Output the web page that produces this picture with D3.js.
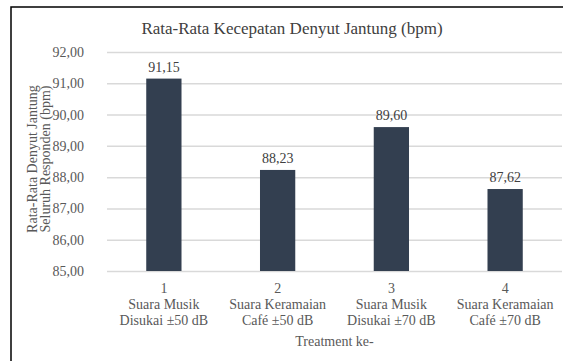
<!DOCTYPE html>
<html><head><meta charset="utf-8">
<script src="https://cdn.jsdelivr.net/npm/d3@7"></script>
<style>body{margin:0;background:#fff}svg{display:block}</style>
</head><body><svg id="c" width="563" height="361"></svg>
<script>
const categories = ["1", "2", "3", "4"];
const labelLine1 = ["Suara Musik", "Suara Keramaian", "Suara Musik", "Suara Keramaian"];
const labelLine2 = ["Disukai ±50 dB", "Café ±50 dB", "Disukai ±70 dB", "Café ±70 dB"];
const values = [91.15, 88.23, 89.60, 87.62];
const yTicks = [85, 86, 87, 88, 89, 90, 91, 92];
const title = "Rata-Rata Kecepatan Denyut Jantung (bpm)";
const yTitle = ["Rata-Rata Denyut Jantung", "Seluruh Responden (bpm)"];
const xTitle = "Treatment ke-";

const FF = "'Liberation Serif'";
const FS = "14px";
const svg = d3.select("#c");
const fmt = v => v.toFixed(2).replace(".", ",");
const x = d3.scaleBand().domain(categories).range([107, 562]).paddingInner(0.69).paddingOuter(0.345);
const y = d3.scaleLinear().domain([85, 92]).range([271, 52]);

// border (top + left)
svg.append("path").attr("d", "M11,361V7H563").attr("fill", "none").attr("stroke", "#000").attr("stroke-width", 1.5);

// grid
const yAxis = d3.axisLeft(y).tickValues(yTicks).tickSize(-(562 - 107)).tickFormat(fmt).tickPadding(23);
const gy = svg.append("g").attr("transform", "translate(107,0)").call(yAxis).attr("font-family", null).attr("font-size", null);
gy.select(".domain").remove();
gy.selectAll(".tick line").attr("stroke", "#d9d9d9").attr("stroke-width", 1.5);
gy.selectAll(".tick text").attr("fill", "#595959").style("font-size", FS).style("font-family", FF);

// bars
svg.append("g").selectAll("rect").data(values).join("rect")
  .attr("x", (d, i) => x(categories[i])).attr("width", x.bandwidth())
  .attr("y", d => y(d)).attr("height", d => y(85) - y(d)).attr("fill", "#333f50");

// value labels
svg.append("g").selectAll("text").data(values).join("text")
  .attr("x", (d, i) => x(categories[i]) + x.bandwidth() / 2).attr("y", d => y(d) - 7)
  .attr("text-anchor", "middle").attr("fill", "#404040").style("font-size", FS).style("font-family", FF).text(fmt);

// x labels
const xl = svg.append("g");
categories.forEach((c, i) => {
  const cx = x(c) + x.bandwidth() / 2;
  [c, labelLine1[i], labelLine2[i]].forEach((t, j) => {
    xl.append("text").attr("x", cx).attr("y", 293 + j * 16).attr("text-anchor", "middle")
      .attr("fill", "#595959").style("font-size", FS).style("font-family", FF).text(t);
  });
});

// x title
svg.append("text").attr("x", 334.5).attr("y", 346).attr("text-anchor", "middle").attr("fill", "#595959").style("font-size", FS).style("font-family", FF).text(xTitle);

// y title
yTitle.forEach((t, j) => {
  svg.append("text").attr("transform", `translate(${37 + j * 13},159) rotate(-90)`).attr("text-anchor", "middle")
    .attr("fill", "#595959").style("font-size", FS).style("font-family", FF).text(t);
});

// title
svg.append("text").attr("x", 292).attr("y", 34).attr("text-anchor", "middle").attr("fill", "#404040").style("font-size", "17px").style("font-family", FF).text(title);
</script></body></html>
